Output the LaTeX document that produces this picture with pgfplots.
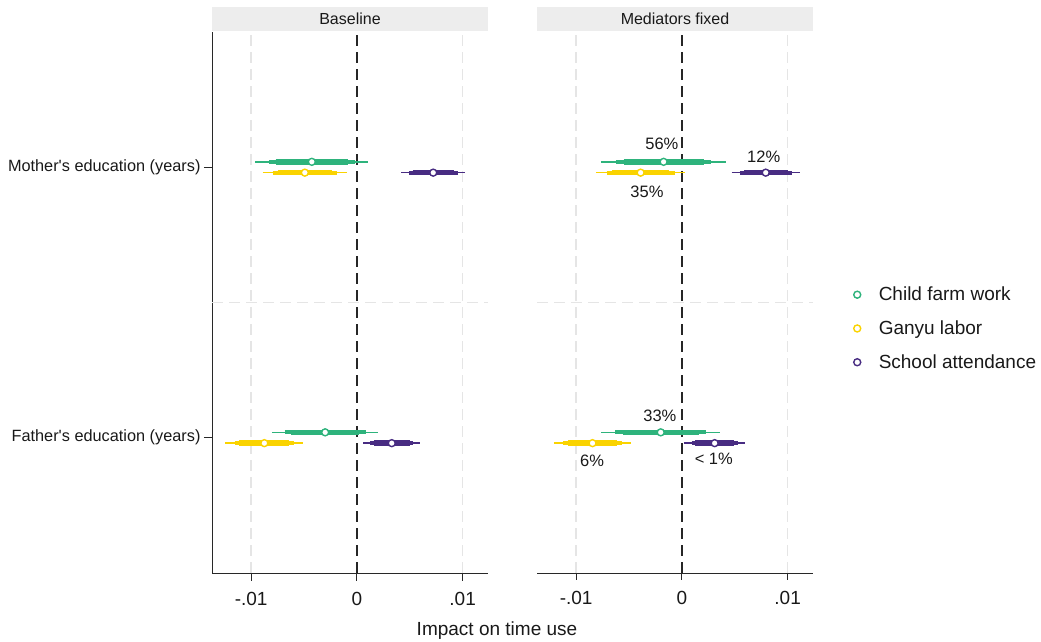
\documentclass[border=0pt]{standalone}
\usepackage{pgfplots}
\pgfplotsset{compat=1.18}
\usepackage{fontspec}
\setmainfont{Liberation Sans}
\definecolor{cG}{RGB}{46,179,124}
\definecolor{cY}{RGB}{250,211,0}
\definecolor{cP}{RGB}{72,44,130}
\definecolor{axc}{RGB}{40,40,40}
\newcommand\fs[1]{\fontsize{#1}{#1}\selectfont}
\pgfplotsset{
  panel/.style={scale only axis, width=276pt, height=541pt,
    xmin=-0.0137, xmax=0.0124, ymin=-0.5, ymax=1.5,
    axis x line*=bottom, axis y line*=left,
    xtick={-0.01,0,0.01}, xticklabels={-.01,0,.01},
    tick align=outside, major tick length=7pt,
    tick style={axc, line width=0.8pt},
    axis line style={axc, line width=0.9pt},
    xticklabel style={font=\fs{19}, text=black!90, yshift=-8pt},
    yticklabel style={font=\fs{16.3}, text=black!90},
    clip=false, anchor=south west, scaled x ticks=false,
    unbounded coords=jump},
  ci99/.style={line width=1.6pt, forget plot},
  ci95/.style={line width=4pt, forget plot},
  ci90/.style={line width=5.5pt, forget plot},
  pt/.style={only marks, mark=*, mark size=3.5pt, mark options={fill=white, line width=1.4pt}, forget plot},
}
\tikzset{
  zeroln/.style={black!85, line width=1.4pt, dash pattern=on 11pt off 6pt},
  gridln/.style={black!10, line width=1.3pt, dash pattern=on 11pt off 6pt},
  pct/.style={font=\fs{16.5}, text=black!90},
}
\begin{document}
\begin{tikzpicture}[x=1pt,y=1pt]
\path[use as bounding box] (0,0) rectangle (1041,642);
% ---------------- Baseline ----------------
\begin{axis}[panel, at={(212pt,69pt)},
  ytick={0,1}, yticklabels={Father\textquotesingle s education (years),Mother\textquotesingle s education (years)},
  major tick length=8pt]
\draw[gridln] (axis cs:-0.01,-0.5) -- (axis cs:-0.01,1.5);
\draw[gridln] (axis cs:0.01,-0.5) -- (axis cs:0.01,1.5);
\draw[gridln] (axis cs:-0.0137,0.5) -- (axis cs:0.0124,0.5);
\draw[zeroln] (axis cs:0,-0.5) -- (axis cs:0,1.5);
\fill[black!7] (axis description cs:0,1.002) rectangle (axis description cs:1,1.046);
\node[font=\fs{16}, text=black!90] at (axis description cs:0.5,1.024) {Baseline};
% green
\addplot[ci99, cG] coordinates {(-0.00961,1.02) (0.00109,1.02) (nan,nan) (-0.00803,0.02) (0.00203,0.02)};
\addplot[ci95, cG] coordinates {(-0.00833,1.02) (-0.00019,1.02) (nan,nan) (-0.00683,0.02) (0.00083,0.02)};
\addplot[ci90, cG] coordinates {(-0.00768,1.02) (-0.00084,1.02) (nan,nan) (-0.00621,0.02) (0.00021,0.02)};
\addplot[pt, cG] coordinates {(-0.00426,1.02) (-0.0030,0.02)};
% yellow
\addplot[ci99, cY] coordinates {(-0.00892,0.98) (-0.00092,0.98) (nan,nan) (-0.01245,-0.02) (-0.00505,-0.02)};
\addplot[ci95, cY] coordinates {(-0.00796,0.98) (-0.00188,0.98) (nan,nan) (-0.01157,-0.02) (-0.00593,-0.02)};
\addplot[ci90, cY] coordinates {(-0.00748,0.98) (-0.00236,0.98) (nan,nan) (-0.01111,-0.02) (-0.00639,-0.02)};
\addplot[pt, cY] coordinates {(-0.00492,0.98) (-0.00875,-0.02)};
% purple
\addplot[ci99, cP] coordinates {(0.00418,0.98) (0.01026,0.98) (nan,nan) (0.00062,-0.02) (0.00598,-0.02)};
\addplot[ci95, cP] coordinates {(0.00491,0.98) (0.00953,0.98) (nan,nan) (0.00126,-0.02) (0.00534,-0.02)};
\addplot[ci90, cP] coordinates {(0.00528,0.98) (0.00916,0.98) (nan,nan) (0.00159,-0.02) (0.00501,-0.02)};
\addplot[pt, cP] coordinates {(0.00722,0.98) (0.0033,-0.02)};
\end{axis}
% ---------------- Mediators fixed ----------------
\begin{axis}[panel, at={(537pt,69pt)},
  ytick=\empty, y axis line style={draw=none},
  legend style={at={(axis description cs:1.136,0.452)}, anchor=west, draw=none, fill=none,
    font=\fs{19}, row sep=14.5pt, text=black!90,
    /tikz/every odd column/.append style={column sep=16pt}},
  legend image code/.code={\draw[#1] plot coordinates {(0pt,0pt)};},
  legend cell align=left]
\draw[gridln] (axis cs:-0.01,-0.5) -- (axis cs:-0.01,1.5);
\draw[gridln] (axis cs:0.01,-0.5) -- (axis cs:0.01,1.5);
\draw[gridln] (axis cs:-0.0137,0.5) -- (axis cs:0.0124,0.5);
\draw[zeroln] (axis cs:0,-0.5) -- (axis cs:0,1.5);
\fill[black!7] (axis description cs:0,1.002) rectangle (axis description cs:1,1.046);
\node[font=\fs{16}, text=black!90] at (axis description cs:0.5,1.024) {Mediators fixed};
% green
\addplot[ci99, cG] coordinates {(-0.00765,1.02) (0.00419,1.02) (nan,nan) (-0.00762,0.02) (0.00362,0.02)};
\addplot[ci95, cG] coordinates {(-0.00624,1.02) (0.00278,1.02) (nan,nan) (-0.00628,0.02) (0.00228,0.02)};
\addplot[ci90, cG] coordinates {(-0.00551,1.02) (0.00205,1.02) (nan,nan) (-0.00559,0.02) (0.00159,0.02)};
\addplot[pt, cG] coordinates {(-0.00173,1.02) (-0.0020,0.02)};
% yellow
\addplot[ci99, cY] coordinates {(-0.00813,0.98) (0.00033,0.98) (nan,nan) (-0.01211,-0.02) (-0.00479,-0.02)};
\addplot[ci95, cY] coordinates {(-0.00712,0.98) (-0.00068,0.98) (nan,nan) (-0.01124,-0.02) (-0.00566,-0.02)};
\addplot[ci90, cY] coordinates {(-0.0066,0.98) (-0.0012,0.98) (nan,nan) (-0.01079,-0.02) (-0.00611,-0.02)};
\addplot[pt, cY] coordinates {(-0.0039,0.98) (-0.00845,-0.02)};
% purple
\addplot[ci99, cP] coordinates {(0.00471,0.98) (0.01115,0.98) (nan,nan) (0.00022,-0.02) (0.00598,-0.02)};
\addplot[ci95, cP] coordinates {(0.00548,0.98) (0.01038,0.98) (nan,nan) (0.00091,-0.02) (0.00529,-0.02)};
\addplot[ci90, cP] coordinates {(0.00587,0.98) (0.00999,0.98) (nan,nan) (0.00126,-0.02) (0.00494,-0.02)};
\addplot[pt, cP] coordinates {(0.00793,0.98) (0.0031,-0.02)};
% percentage labels
\node[pct] at (axis cs:-0.00189,1.085) {56\%};
\node[pct] at (axis cs:-0.0033,0.911) {35\%};
\node[pct] at (axis cs:0.00774,1.037) {12\%};
\node[pct] at (axis cs:-0.00208,0.081) {33\%};
\node[pct] at (axis cs:-0.00849,-0.085) {6\%};
\node[pct] at (axis cs:0.00302,-0.078) {< 1\%};
% legend
\addlegendimage{only marks, mark=*, mark size=3.5pt, cG, mark options={fill=white, line width=1.4pt}}
\addlegendentry{Child farm work}
\addlegendimage{only marks, mark=*, mark size=3.5pt, cY, mark options={fill=white, line width=1.4pt}}
\addlegendentry{Ganyu labor}
\addlegendimage{only marks, mark=*, mark size=3.5pt, cP, mark options={fill=white, line width=1.4pt}}
\addlegendentry{School attendance}
\end{axis}
\node[font=\fs{19}, text=black!90] at (497,11) {Impact on time use};
\end{tikzpicture}
\end{document}
